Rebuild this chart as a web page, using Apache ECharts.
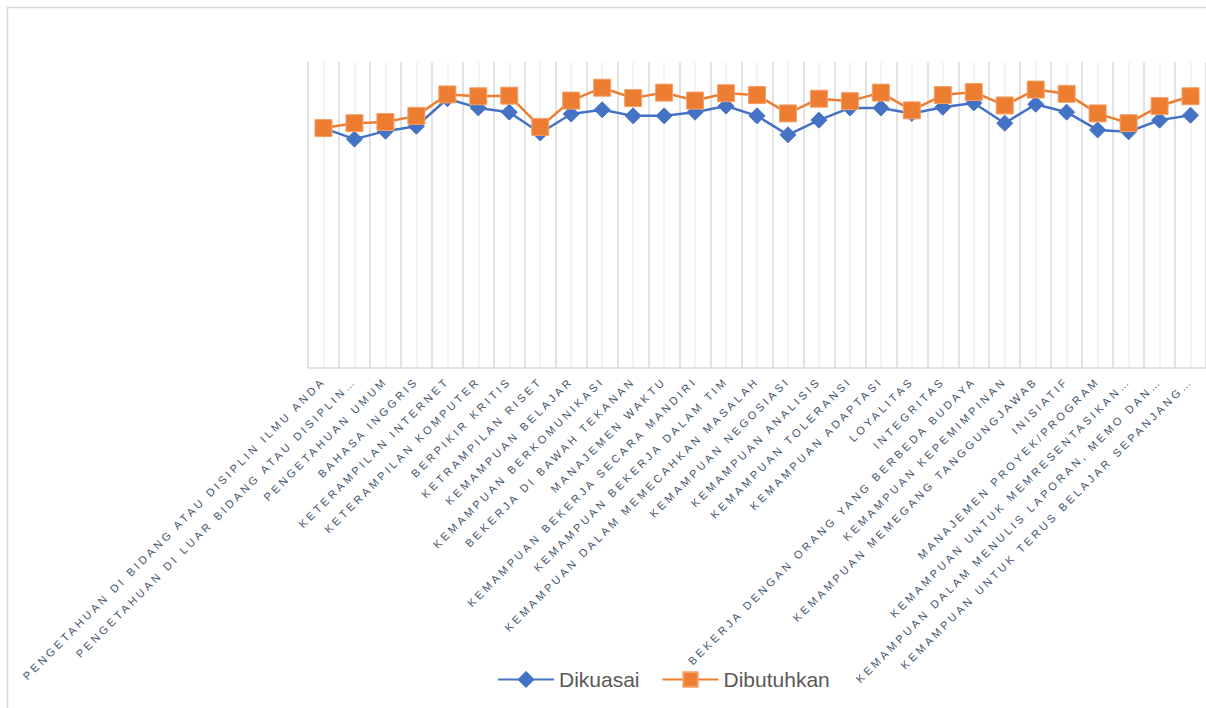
<!DOCTYPE html>
<html>
<head>
<meta charset="utf-8">
<script src="https://cdn.jsdelivr.net/npm/echarts@6/dist/echarts.min.js"></script>
<style>
  html, body { margin: 0; padding: 0; background: #fff; }
  #chart { width: 1206px; height: 708px; }
  #chart text[style*="11px"] { letter-spacing: 3.1px; }
</style>
</head>
<body>
<div id="chart"></div>
<script>
const categories = [
  'PENGETAHUAN DI BIDANG ATAU DISIPLIN ILMU ANDA',
  'PENGETAHUAN DI LUAR BIDANG ATAU DISIPLIN…',
  'PENGETAHUAN UMUM',
  'BAHASA INGGRIS',
  'KETERAMPILAN INTERNET',
  'KETERAMPILAN KOMPUTER',
  'BERPIKIR KRITIS',
  'KETRAMPILAN RISET',
  'KEMAMPUAN BELAJAR',
  'KEMAMPUAN BERKOMUNIKASI',
  'BEKERJA DI BAWAH TEKANAN',
  'MANAJEMEN WAKTU',
  'KEMAMPUAN BEKERJA SECARA MANDIRI',
  'KEMAMPUAN BEKERJA DALAM TIM',
  'KEMAMPUAN DALAM MEMECAHKAN MASALAH',
  'KEMAMPUAN NEGOSIASI',
  'KEMAMPUAN ANALISIS',
  'KEMAMPUAN TOLERANSI',
  'KEMAMPUAN ADAPTASI',
  'LOYALITAS',
  'INTEGRITAS',
  'BEKERJA DENGAN ORANG YANG BERBEDA BUDAYA',
  'KEMAMPUAN KEPEMIMPINAN',
  'KEMAMPUAN MEMEGANG TANGGUNGJAWAB',
  'INISIATIF',
  'MANAJEMEN PROYEK/PROGRAM',
  'KEMAMPUAN UNTUK MEMRESENTASIKAN…',
  'KEMAMPUAN DALAM MENULIS LAPORAN, MEMO DAN…',
  'KEMAMPUAN UNTUK TERUS BELAJAR SEPANJANG…'
];

const dikuasai = [3.92, 3.74, 3.87, 3.95, 4.40, 4.25, 4.18, 3.84, 4.15, 4.22,
                  4.12, 4.12, 4.18, 4.28, 4.12, 3.81, 4.05, 4.25, 4.25, 4.16,
                  4.26, 4.33, 4.00, 4.31, 4.18, 3.89, 3.86, 4.05, 4.13];

const dibutuhkan = [3.92, 4.00, 4.02, 4.12, 4.47, 4.44, 4.45, 3.94, 4.37, 4.58,
                    4.41, 4.50, 4.37, 4.49, 4.46, 4.16, 4.40, 4.36, 4.50, 4.21,
                    4.46, 4.51, 4.29, 4.55, 4.48, 4.16, 4.00, 4.28, 4.44];

const seriesNames = ['Dikuasai', 'Dibutuhkan'];

const chart = echarts.init(document.getElementById('chart'), null, { renderer: 'svg' });

chart.setOption({
  animation: false,
  backgroundColor: '#ffffff',
  graphic: [{
    type: 'rect',
    shape: { x: 7.5, y: 7.5, width: 1400, height: 900 },
    style: { fill: 'none', stroke: '#d9d9d9', lineWidth: 1.5 },
    silent: true,
    z: -10
  }],
  grid: { left: 308, top: 62, width: 900, bottom: 340, containLabel: false },
  legend: {
    data: seriesNames,
    left: 492,
    top: 664,
    itemWidth: 56,
    itemHeight: 18,
    itemGap: 22,
    textStyle: { fontFamily: 'Liberation Sans', fontSize: 21, color: '#595959' }
  },
  xAxis: [{
    type: 'category',
    data: categories,
    boundaryGap: true,
    axisLine: { show: true, lineStyle: { color: '#d9d9d9', width: 1.5 } },
    axisTick: { show: false },
    splitLine: { show: false },
    axisLabel: {
      interval: 0,
      rotate: 45,
      margin: 11,
      fontFamily: 'Liberation Sans',
      fontSize: 11,
      color: '#44546A'
    }
  }, {
    type: 'value',
    min: 0,
    max: 58,
    interval: 1,
    position: 'top',
    axisLine: { show: false },
    axisTick: { show: false },
    axisLabel: { show: false },
    splitLine: { show: true, lineStyle: { color: ['#d9d9d9', '#f0f0f0'], width: 1.5 } }
  }],
  yAxis: {
    type: 'value',
    min: 0,
    max: 5,
    show: true,
    axisLine: { show: false },
    axisTick: { show: false },
    axisLabel: { show: false },
    splitLine: { show: false }
  },
  series: [{
    name: seriesNames[0],
    type: 'line',
    xAxisIndex: 0,
    data: dikuasai,
    symbol: 'diamond',
    symbolSize: 16,
    lineStyle: { color: '#4472C4', width: 2.5 },
    itemStyle: { color: '#4472C4', borderColor: '#4472C4', borderWidth: 1 },
    z: 3
  }, {
    name: seriesNames[1],
    type: 'line',
    xAxisIndex: 0,
    data: dibutuhkan,
    symbol: 'rect',
    symbolSize: 17,
    lineStyle: { color: '#ED7D31', width: 2.5 },
    itemStyle: { color: '#ED7D31', borderColor: '#F4A06A', borderWidth: 1 },
    z: 4
  }]
});
</script>
</body>
</html>
